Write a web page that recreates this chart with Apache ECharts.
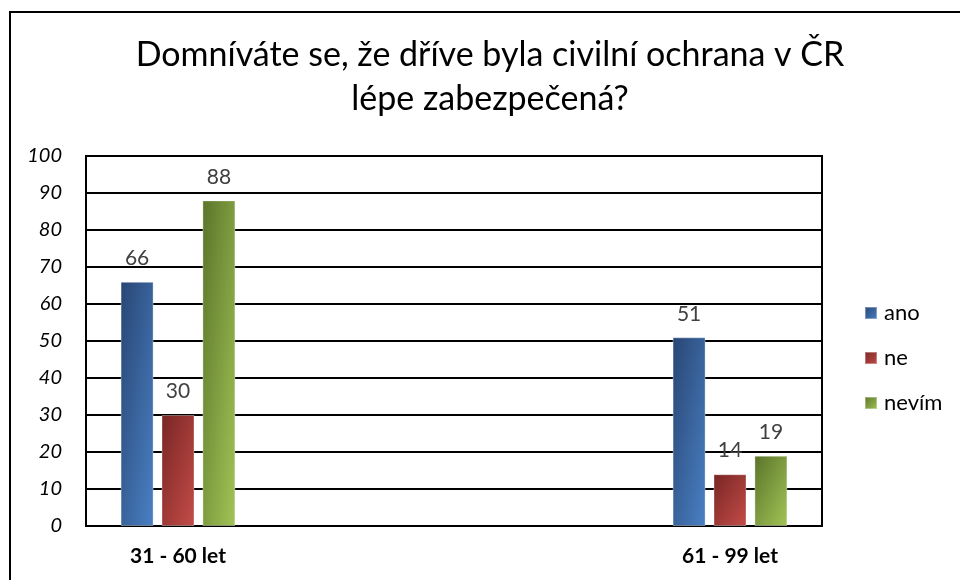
<!DOCTYPE html>
<html>
<head>
<meta charset="utf-8">
<script src="https://cdn.jsdelivr.net/npm/echarts@6/dist/echarts.min.js"></script>
<style>
  html, body { margin: 0; padding: 0; background: #fff; }
  #chart { width: 960px; height: 580px; }
</style>
</head>
<body>
<div id="chart"></div>
<script>
// Survey answers by age group
const titleLines = ['Domníváte se, že dříve byla civilní ochrana v ČR', 'lépe zabezpečená?'];
const categories = ['31 - 60 let', '61 - 99 let'];
const seriesNames = ['ano', 'ne', 'nevím'];
const anoValues = [66, 51];
const neValues = [30, 14];
const nevimValues = [88, 19];
const yTicks = { min: 0, max: 100, interval: 10 };

const FONT = 'Lato, "Open Sans", sans-serif';
const BAR_W = 33;
const PLOT_H = 370;

// shape-scaled diagonal shading: dark top-left, light bottom-right,
// with top-right and bottom-left corners sharing the middle tone
function shaded(c1, c2) {
  return function (params) {
    const w = BAR_W;
    const h = Math.max(1, params.value / yTicks.max * PLOT_H);
    const d = h * h + w * w;
    return new echarts.graphic.LinearGradient(0, 0, 2 * h * h / d, 2 * w * w / d, [
      { offset: 0, color: c1 },
      { offset: 1, color: c2 }
    ]);
  };
}

const palettes = [
  ['#284673', '#4a80c4'],
  ['#782624', '#c44c48'],
  ['#5a742a', '#a2c456']
];

const valueSets = [anoValues, neValues, nevimValues];

const chart = echarts.init(document.getElementById('chart'), null, { renderer: 'canvas' });

const option = {
  animation: false,
  backgroundColor: '#fff',
  title: {
    text: titleLines.join('\n'),
    left: 490,
    top: 33,
    textAlign: 'center',
    padding: 0,
    textStyle: {
      fontFamily: FONT,
      fontSize: 34,
      fontWeight: 'normal',
      color: '#000',
      lineHeight: 44
    }
  },
  legend: {
    orient: 'vertical',
    left: 864,
    top: 302,
    padding: 0,
    itemWidth: 12,
    itemHeight: 12,
    itemGap: 23,
    icon: 'rect',
    data: seriesNames.map((name, i) => ({
      name: name,
      itemStyle: {
        color: new echarts.graphic.LinearGradient(0, 0, 1, 1, [
          { offset: 0, color: palettes[i][0] },
          { offset: 1, color: palettes[i][1] }
        ])
      }
    })),
    textStyle: {
      fontFamily: FONT,
      fontSize: 22,
      color: '#000',
      padding: [0, 0, 0, 2]
    }
  },
  graphic: [{
    type: 'rect',
    shape: { x: 10, y: 12, width: 970, height: 590 },
    style: { fill: 'none', stroke: '#000', lineWidth: 2 },
    silent: true,
    z: 100
  }],
  grid: [
    { left: 86, right: 138, top: 156, bottom: 54, show: true, borderColor: '#000', borderWidth: 2, backgroundColor: 'transparent' },
    { left: 178, right: 230, top: 156, bottom: 54 }
  ],
  xAxis: [
    { gridIndex: 0, type: 'category', data: categories, show: false },
    {
      gridIndex: 1,
      type: 'category',
      data: categories,
      boundaryGap: false,
      axisLine: { show: false },
      axisTick: { show: false },
      splitLine: { show: false },
      axisLabel: {
        margin: 20,
        fontFamily: FONT,
        fontSize: 21,
        fontWeight: 'bold',
        color: '#000'
      }
    }
  ],
  yAxis: [
    {
      gridIndex: 0,
      type: 'value',
      min: yTicks.min,
      max: yTicks.max,
      interval: yTicks.interval,
      axisLine: { show: false },
      axisTick: { show: false },
      splitLine: { show: true, lineStyle: { color: '#000', width: 2 } },
      axisLabel: {
        margin: 24,
        fontFamily: FONT,
        fontSize: 20,
        fontStyle: 'italic',
        color: '#000'
      }
    },
    {
      gridIndex: 1,
      type: 'value',
      min: yTicks.min,
      max: yTicks.max,
      interval: yTicks.interval,
      show: false
    }
  ],
  series: seriesNames.map((name, i) => ({
    name: name,
    type: 'bar',
    xAxisIndex: 1,
    yAxisIndex: 1,
    barWidth: BAR_W,
    barGap: '24%',
    data: valueSets[i],
    itemStyle: {
      color: shaded(palettes[i][0], palettes[i][1]),
      borderColor: 'rgba(255,255,255,0.35)',
      borderWidth: 1
    },
    label: {
      show: true,
      position: 'top',
      distance: 13,
      fontFamily: FONT,
      fontSize: 21,
      color: '#404040'
    }
  }))
};

chart.setOption(option);
</script>
</body>
</html>
